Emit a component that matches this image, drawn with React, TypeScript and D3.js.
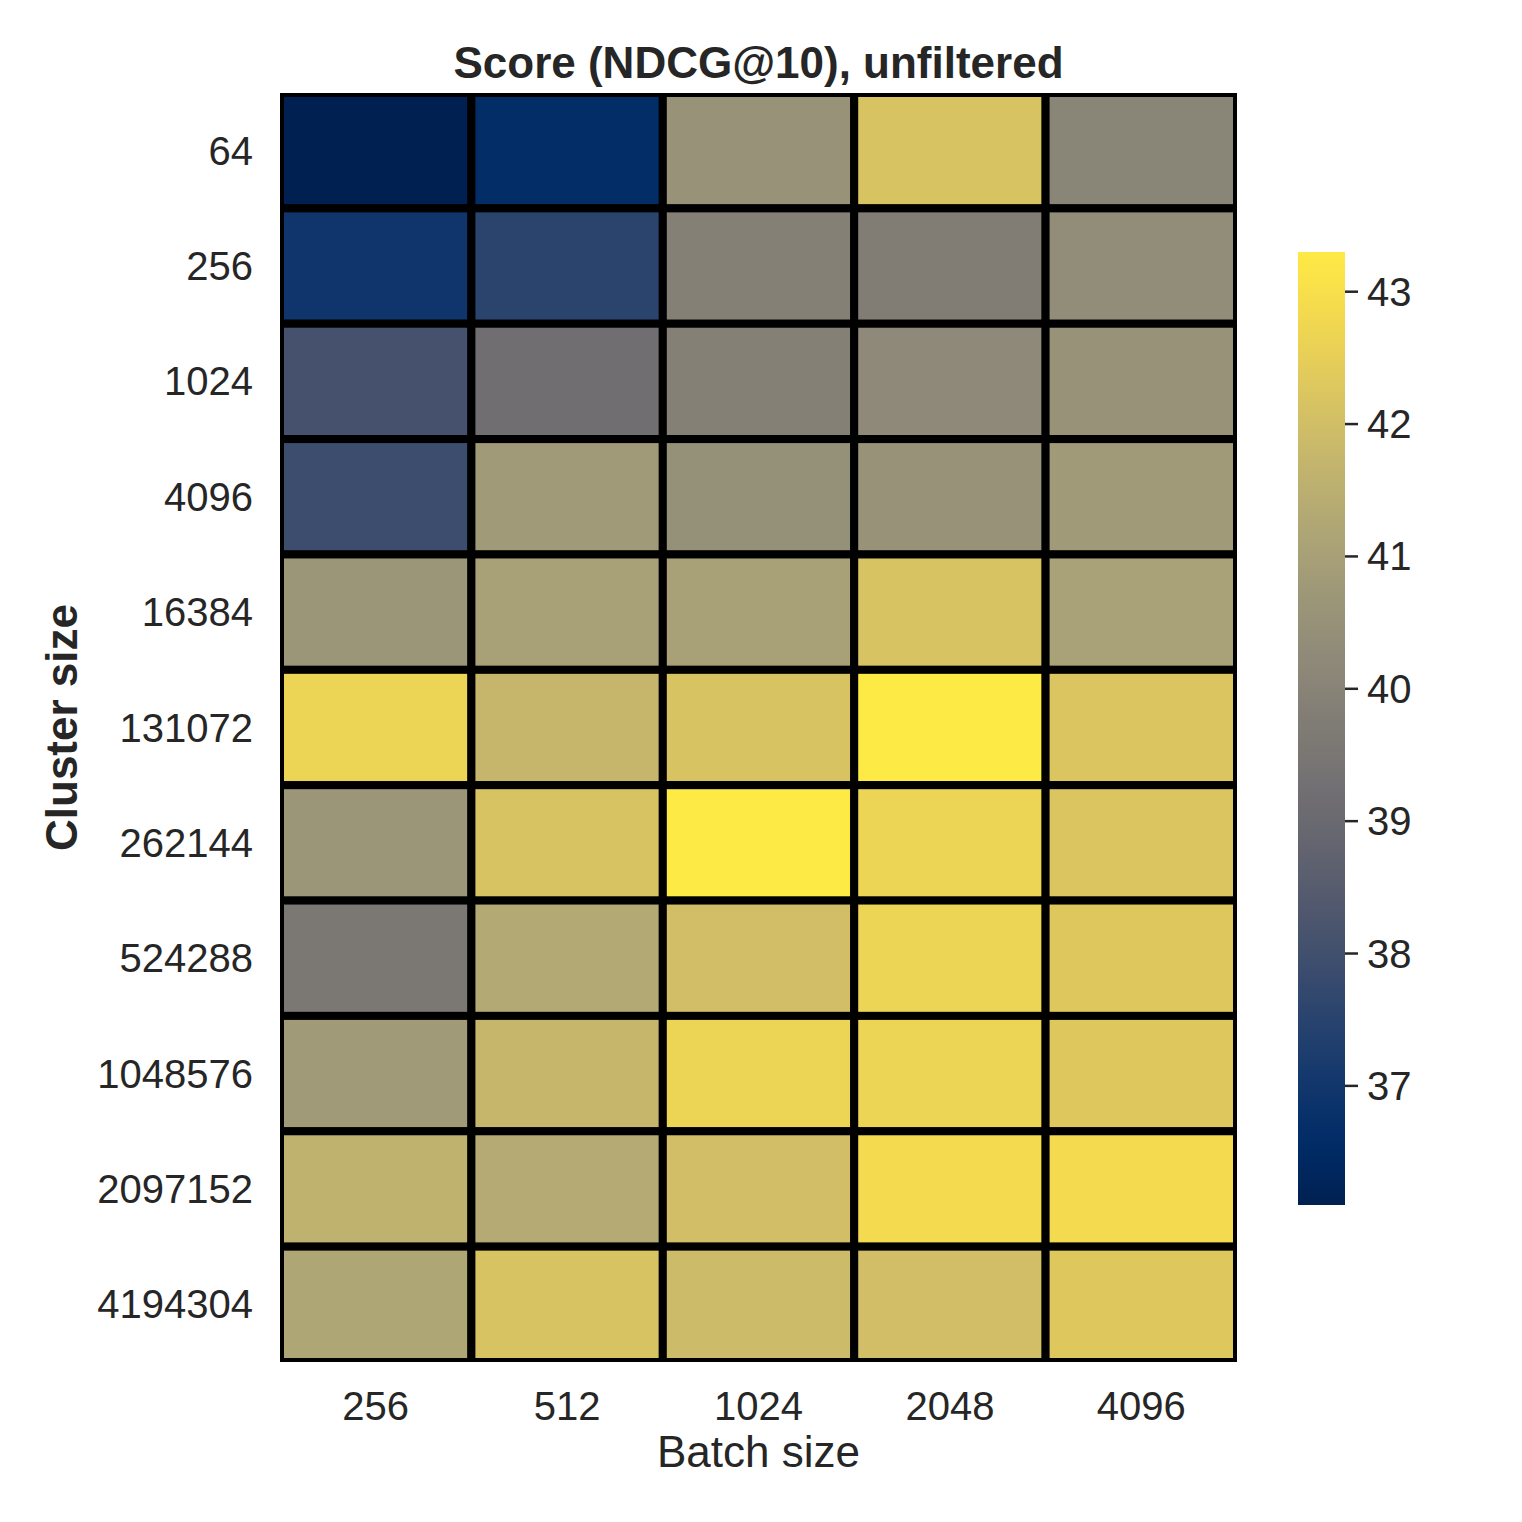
import React from "react";
import * as d3 from "d3";

const clusterSizes = ["64", "256", "1024", "4096", "16384", "131072", "262144", "524288", "1048576", "2097152", "4194304"];
const batchSizes = ["256", "512", "1024", "2048", "4096"];

const row64 = [36.1, 36.6, 40.55, 42.15, 40.05];
const row256 = [36.95, 37.55, 39.85, 39.75, 40.35];
const row1024 = [38.1, 39.2, 39.85, 40.2, 40.55];
const row4096 = [37.9, 40.8, 40.45, 40.55, 40.8];
const row16384 = [40.65, 41.0, 41.0, 42.15, 41.05];
const row131072 = [42.65, 41.75, 42.15, 43.3, 42.2];
const row262144 = [40.65, 42.15, 43.3, 42.65, 42.2];
const row524288 = [39.55, 41.3, 42.0, 42.65, 42.3];
const row1048576 = [40.8, 41.75, 42.65, 42.65, 42.3];
const row2097152 = [41.6, 41.35, 42.0, 42.85, 42.85];
const row4194304 = [41.2, 42.15, 41.9, 42.0, 42.3];

const scores = [row64, row256, row1024, row4096, row16384, row131072, row262144, row524288, row1048576, row2097152, row4194304];
const colorbarTicks = [37, 38, 39, 40, 41, 42, 43];

const W = 1522;
const H = 1522;
const FONT = "'Liberation Sans', Arial, Helvetica, sans-serif";
const TXT = "#262626";

export default function App() {
  const left = 280, right = 1237, top = 93, bottom = 1362;
  const x = d3.scaleBand<string>().domain(batchSizes).range([left, right]).padding(0);
  const y = d3.scaleBand<string>().domain(clusterSizes).range([top, bottom]).padding(0);
  const allVals = scores.flat();
  const vmin = d3.min(allVals) as number;
  const vmax = d3.max(allVals) as number;
  const color = d3.scaleSequential(d3.interpolateCividis).domain([vmin, vmax]);

  const cbX = 1298, cbW = 47, cbTop = 252, cbBottom = 1205;
  const cy = d3.scaleLinear().domain([vmin, vmax]).range([cbBottom, cbTop]);
  const stops = d3.range(0, 101).map((i) => i / 100);

  const cells: any[] = [];
  scores.forEach((row, ri) => {
    row.forEach((v, ci) => {
      cells.push({ r: clusterSizes[ri], c: batchSizes[ci], v });
    });
  });

  return (
    <svg width={W} height={H} style={{ position: "absolute", left: 0, top: 0, background: "#fff" }} fontFamily={FONT}>
      <defs>
        <clipPath id="plotclip">
          <rect x={left} y={top} width={right - left} height={bottom - top} />
        </clipPath>
        <linearGradient id="cbgrad" x1="0" y1="1" x2="0" y2="0">
          {stops.map((t) => (
            <stop key={t} offset={`${t * 100}%`} stopColor={d3.interpolateCividis(t)} />
          ))}
        </linearGradient>
      </defs>
      <rect x={0} y={0} width={W} height={H} fill="#fff" />
      <text x={(left + right) / 2} y={78} textAnchor="middle" fontSize={44} fontWeight="bold" fill={TXT}>
        Score (NDCG@10), unfiltered
      </text>
      <g clipPath="url(#plotclip)">
        {cells.map((d, i) => (
          <rect
            key={i}
            x={x(d.c)}
            y={y(d.r)}
            width={x.bandwidth()}
            height={y.bandwidth()}
            fill={color(d.v)}
            stroke="#000"
            strokeWidth={8}
          />
        ))}
      </g>
      {clusterSizes.map((r) => (
        <text key={r} x={253} y={(y(r) as number) + y.bandwidth() / 2 + 14} textAnchor="end" fontSize={40} fill={TXT}>
          {r}
        </text>
      ))}
      {batchSizes.map((c) => (
        <text key={c} x={(x(c) as number) + x.bandwidth() / 2} y={1420} textAnchor="middle" fontSize={40} fill={TXT}>
          {c}
        </text>
      ))}
      <text x={(left + right) / 2} y={1467} textAnchor="middle" fontSize={44} fill={TXT}>
        Batch size
      </text>
      <text
        transform={`translate(77, ${(top + bottom) / 2}) rotate(-90)`}
        textAnchor="middle"
        fontSize={44}
        fontWeight="bold"
        fill={TXT}
      >
        Cluster size
      </text>
      <rect x={cbX} y={cbTop} width={cbW} height={cbBottom - cbTop} fill="url(#cbgrad)" />
      {colorbarTicks.map((t) => (
        <g key={t}>
          <line x1={cbX + cbW} x2={cbX + cbW + 13} y1={cy(t)} y2={cy(t)} stroke={TXT} strokeWidth={2.5} />
          <text x={cbX + cbW + 22} y={cy(t) + 14} fontSize={40} fill={TXT}>
            {t}
          </text>
        </g>
      ))}
    </svg>
  );
}
